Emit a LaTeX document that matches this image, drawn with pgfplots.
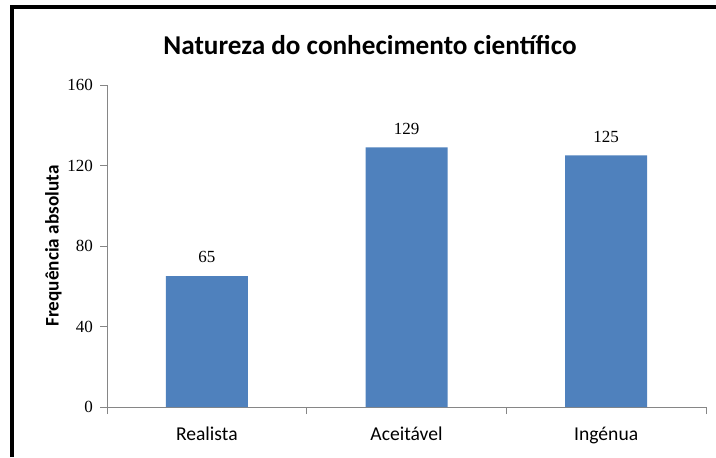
\documentclass[border=0pt]{standalone}
\usepackage{pgfplots}
\pgfplotsset{compat=1.18}
\usepackage{fontspec}
\setmainfont{Carlito}
\newfontfamily\numfont{Liberation Serif}
\definecolor{barblue}{HTML}{4F81BD}
\definecolor{axisgray}{HTML}{868686}
\begin{document}
\begin{tikzpicture}
% picture is 716x457 px at 0.5pt per px
\path[use as bounding box] (0,0) rectangle (358pt,228.5pt);
\draw[black, line width=2pt] (6pt,0) -- (6pt,225pt) -- (358pt,225pt);
\node[font=\fontsize{13.6}{15}\selectfont\bfseries] at (185pt,206pt) {Natureza do conhecimento científico};

\begin{axis}[
  at={(53.5pt,25pt)},
  anchor=south west,
  width=299.5pt,
  height=161pt,
  scale only axis,
  ybar,
  bar width=41pt,
  axis x line*=bottom,
  axis y line*=left,
  axis line style={axisgray, -},
  xmin=-0.5, xmax=2.5,
  ymin=0, ymax=160,
  ytick={0,40,80,120,160},
  xtick={-0.5,0.5,1.5,2.5},
  xticklabels={Realista,Aceitável,Ingénua},
  x tick label as interval,
  tick align=outside,
  major tick length=3.5pt,
  x tick style={axisgray},
  y tick style={axisgray},
  y tick label style={font=\fontsize{8.5}{9}\selectfont\numfont, /pgf/number format/assume math mode=true},
  x tick label style={font=\fontsize{9.8}{11}\selectfont, yshift=-3pt},
  ylabel={Frequência absoluta},
  ylabel style={font=\fontsize{9.6}{11}\selectfont\bfseries, yshift=-4pt},
  nodes near coords,
  nodes near coords style={font=\fontsize{8.5}{9}\selectfont\numfont, yshift=3pt, /pgf/number format/assume math mode=true},
]
\addplot[fill=barblue, draw=none] coordinates {(0,65) (1,129) (2,125)};
\end{axis}
\end{tikzpicture}
\end{document}
